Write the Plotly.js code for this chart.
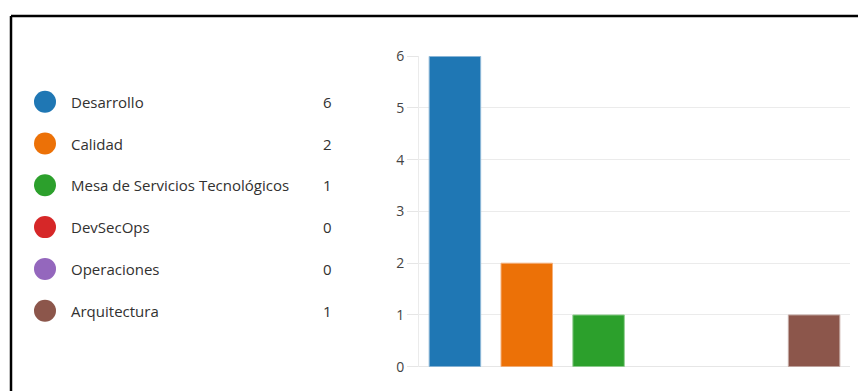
<!DOCTYPE html>
<html>
<head>
<meta charset="utf-8">
<script src="https://cdn.plot.ly/plotly-3.0.1.min.js"></script>
<style>
  html, body { margin: 0; padding: 0; background: #ffffff; }
  #chart { width: 858px; height: 391px; }
</style>
</head>
<body>
<div id="chart"></div>
<script>
// Number of people per area
const areas  = ["Desarrollo", "Calidad", "Mesa de Servicios Tecnológicos", "DevSecOps", "Operaciones", "Arquitectura"];
const counts = [6, 2, 1, 0, 0, 1];
const colors = ["#1f77b4", "#ec7107", "#2ca02c", "#d62728", "#9467bd", "#8c564b"];
const edgeColors = ["#8fb8d8", "#f5b07a", "#95cf95", "#eb9393", "#c9b3de", "#c5aaa5"];
const yTicks = [0, 1, 2, 3, 4, 5, 6];

const W = 858, H = 391;
const textFont = { family: "Open Sans, Noto Sans, sans-serif", size: 15, color: "#323130" };
const rowIdx = areas.map((_, i) => i);

// Bars on the main axes
const bars = {
  type: "bar",
  x: areas,
  y: counts,
  marker: {
    color: colors,
    line: { color: edgeColors, width: counts.map(c => (c > 0 ? 1 : 0)) }
  },
  hoverinfo: "x+y",
  showlegend: false,
  xaxis: "x",
  yaxis: "y"
};

// Legend dots on a separate full-page axis pair (x in px, y in row units)
const dots = {
  type: "scatter",
  mode: "markers",
  x: rowIdx.map(() => 45),
  y: rowIdx,
  marker: { color: colors, size: 22, symbol: "circle" },
  hoverinfo: "skip",
  showlegend: false,
  xaxis: "x2",
  yaxis: "y2"
};

const legendLabels = areas.map((a, i) => ({
  xref: "x2", yref: "y2", x: 69, y: i, text: a,
  xanchor: "left", yanchor: "middle", showarrow: false, font: textFont
}));
const legendValues = counts.map((c, i) => ({
  xref: "x2", yref: "y2", x: 327, y: i, text: String(c),
  xanchor: "center", yanchor: "middle", showarrow: false, font: textFont
}));

// Row 0 sits at 101.7px from the top, rows are 41.8px apart
const rowTop = 101.7, rowStep = 41.8;

const layout = {
  width: W, height: H,
  margin: { l: 0, r: 0, t: 0, b: 0 },
  paper_bgcolor: "#ffffff",
  plot_bgcolor: "rgba(0,0,0,0)",
  bargap: 0.283,
  font: textFont,
  xaxis: {
    domain: [419 / W, 850 / W],
    type: "category",
    showticklabels: false,
    ticks: "",
    showgrid: false,
    zeroline: false,
    showline: false,
    fixedrange: true
  },
  yaxis: {
    domain: [(H - 366.7) / H, (H - 56.2) / H],
    range: [0, 6],
    tickvals: yTicks,
    ticktext: yTicks.map(String),
    ticks: "outside",
    ticklen: 11,
    tickcolor: "#e6e6e6",
    tickwidth: 1,
    showgrid: true,
    gridcolor: "#ebebeb",
    gridwidth: 1,
    zeroline: true,
    zerolinecolor: "#e6e6e6",
    zerolinewidth: 1,
    showline: true,
    linecolor: "#ebebeb",
    linewidth: 1,
    tickfont: { family: "Open Sans, Noto Sans, sans-serif", size: 14, color: "#444444" },
    fixedrange: true
  },
  xaxis2: {
    domain: [0, 1], range: [0, W], anchor: "y2",
    visible: false, fixedrange: true
  },
  yaxis2: {
    domain: [0, 1],
    range: [(H - rowTop) / rowStep, -rowTop / rowStep],
    anchor: "x2",
    visible: false, fixedrange: true
  },
  annotations: legendLabels.concat(legendValues),
  shapes: [
    { type: "line", xref: "paper", yref: "paper", x0: 11 / W, x1: 1, y0: (H - 16) / H, y1: (H - 16) / H,
      line: { color: "#000000", width: 2.5 } },
    { type: "line", xref: "paper", yref: "paper", x0: 11 / W, x1: 11 / W, y0: 0, y1: (H - 16) / H,
      line: { color: "#000000", width: 2.5 } }
  ]
};

Plotly.newPlot("chart", [bars, dots], layout, { displayModeBar: false, staticPlot: true });
</script>
</body>
</html>
